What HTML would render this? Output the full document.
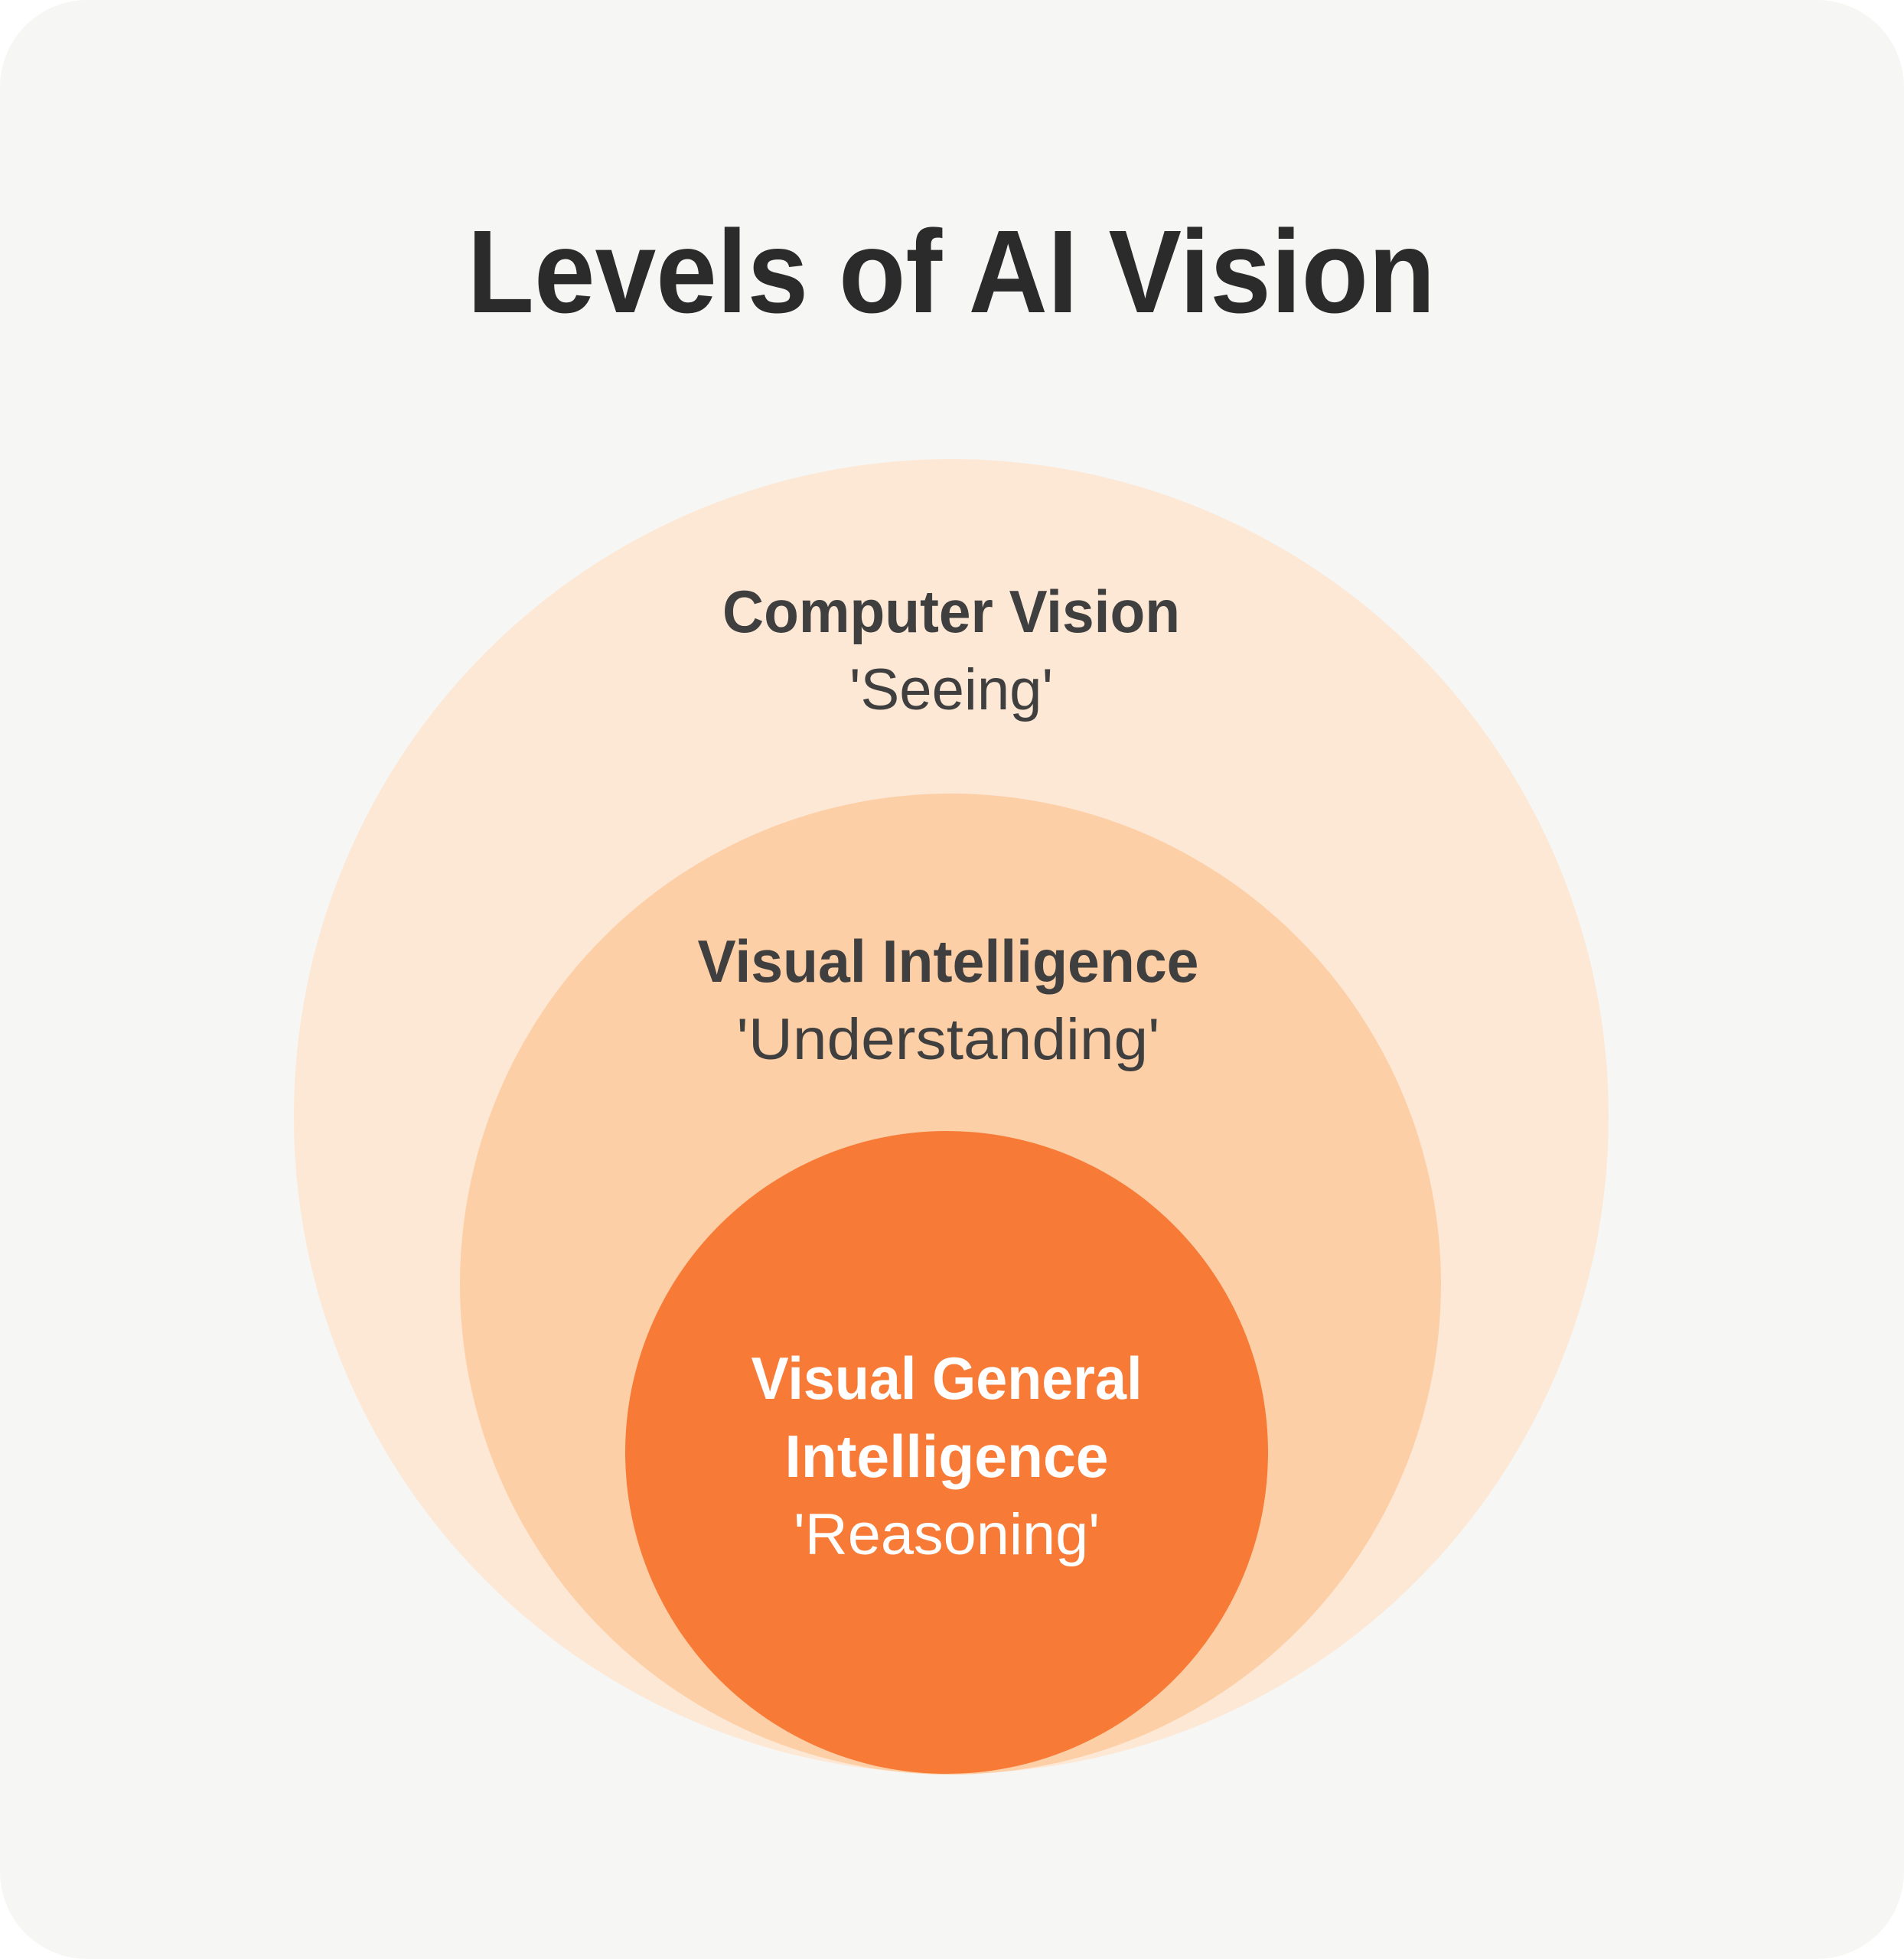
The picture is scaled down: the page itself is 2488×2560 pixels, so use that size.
<!DOCTYPE html>
<html><head><meta charset="utf-8"><style>
html,body{margin:0;padding:0;background:#fff;}
svg{display:block;}
text{font-family:"Liberation Sans",sans-serif;text-anchor:middle;}
</style></head><body>
<svg width="2488" height="2560" viewBox="0 0 2488 2560" xmlns="http://www.w3.org/2000/svg">
<rect x="0" y="0" width="2488" height="2560" rx="114" fill="#f6f6f4"/>
<text x="1243" y="408" font-size="154" font-weight="bold" fill="#2b2b2b" textLength="1265" lengthAdjust="spacingAndGlyphs">Levels of AI Vision</text>
<circle cx="1243" cy="1459" r="859" fill="#fde8d6"/>
<circle cx="1242" cy="1678" r="641" fill="#fdcfa7"/>
<circle cx="1237" cy="1898" r="420" fill="#f77b36"/>
<text x="1243" y="826" font-size="78" font-weight="bold" fill="#3f3f3f" textLength="598" lengthAdjust="spacingAndGlyphs">Computer Vision</text>
<text x="1243" y="927" font-size="76" fill="#3f3f3f" textLength="266" lengthAdjust="spacingAndGlyphs">'Seeing'</text>
<text x="1239" y="1283" font-size="78" font-weight="bold" fill="#3f3f3f" textLength="655" lengthAdjust="spacingAndGlyphs">Visual Intelligence</text>
<text x="1239" y="1384" font-size="76" fill="#3f3f3f" textLength="553" lengthAdjust="spacingAndGlyphs">'Understanding'</text>
<text x="1237" y="1828" font-size="78" font-weight="bold" fill="#ffffff" textLength="511" lengthAdjust="spacingAndGlyphs">Visual General</text>
<text x="1237" y="1930" font-size="78" font-weight="bold" fill="#ffffff" textLength="423" lengthAdjust="spacingAndGlyphs">Intelligence</text>
<text x="1237" y="2031" font-size="76" fill="#ffffff" textLength="400" lengthAdjust="spacingAndGlyphs">'Reasoning'</text>
</svg>
</body></html>
